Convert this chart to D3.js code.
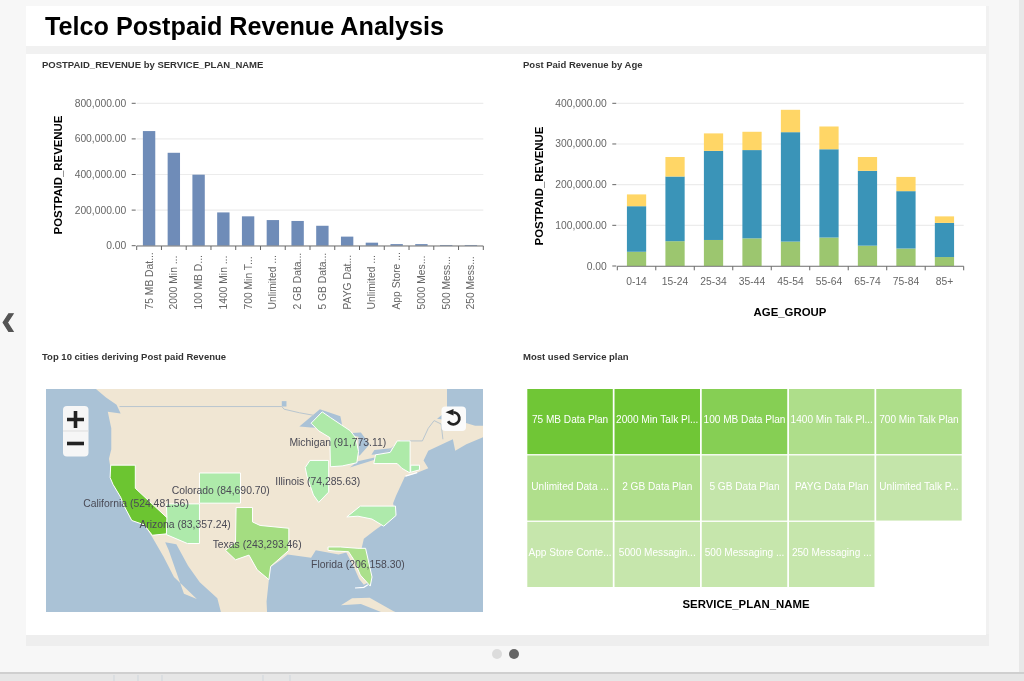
<!DOCTYPE html>
<html>
<head>
<meta charset="utf-8">
<script src="https://cdn.jsdelivr.net/npm/d3@7"></script>
<style>
html, body { margin: 0; padding: 0; background: #f7f7f7; overflow: hidden; }
svg { display: block; font-family: "Liberation Sans", Arial, sans-serif; filter: blur(0.35px); }
.tick-label { font-size: 10.3px; fill: #666; }
.panel-title { font-size: 9.5px; font-weight: bold; fill: #333; }
.axis-title { font-size: 11.4px; font-weight: bold; fill: #000; }
.map-label { font-size: 10.4px; fill: #4a4a55; }
.cell-label { font-size: 10.1px; fill: #fff; text-anchor: middle; }
</style>
</head>
<body>
<div id="chart"></div>
<script>
// bar chart data
var plan_short = ["75 MB Dat...", "2000 Min ...", "100 MB D...", "1400 Min ...", "700 Min T...", "Unlimited ...", "2 GB Data...", "5 GB Data...", "PAYG Dat...", "Unlimited ...", "App Store ...", "5000 Mes...", "500 Mess...", "250 Mess..."];
var plan_revenue = [644000, 522000, 399000, 187000, 165000, 144000, 139000, 112000, 51000, 17000, 9000, 9000, 4000, 4000];
var revenue_ticks = [0, 200000, 400000, 600000, 800000];

// stacked age data
var age_groups = ["0-14", "15-24", "25-34", "35-44", "45-54", "55-64", "65-74", "75-84", "85+"];
var age_green = [35000, 61000, 64000, 68000, 60000, 70000, 50000, 43000, 22000];
var age_blue = [112000, 159000, 219000, 217000, 269000, 217000, 184000, 141000, 84000];
var age_yellow = [29000, 48000, 43000, 45000, 55000, 56000, 34000, 35000, 16000];
var age_ticks = [0, 100000, 200000, 300000, 400000];

// heat map data
var plan_names = ["75 MB Data Plan", "2000 Min Talk Pl...", "100 MB Data Plan", "1400 Min Talk Pl...", "700 Min Talk Plan", "Unlimited Data ...", "2 GB Data Plan", "5 GB Data Plan", "PAYG Data Plan", "Unlimited Talk P...", "App Store Conte...", "5000 Messagin...", "500 Messaging ...", "250 Messaging ..."];
var plan_usage = [100, 100, 82, 50, 50, 48, 48, 22, 22, 22, 20, 20, 20, 20];

// map data, lon/lat
var state_names = ["California", "Arizona", "Colorado", "Texas", "Illinois", "Michigan", "Florida", "New York", "North Carolina", "Connecticut"];
var state_revenue = [524481.56, 83357.24, 84690.70, 243293.46, 74285.63, 91773.11, 206158.30, 88000, 80000, 70000];
var state_labels = [[-128.9, 36.5], [-119.3, 33.5], [-113.8, 38.3], [-106.8, 30.6], [-96.1, 39.5], [-93.7, 44.4], [-90.0, 27.6], null, null, null];
var state_shapes = [
  [[-124.2, 42], [-120, 42], [-120, 39], [-114.6, 35], [-114.1, 34.3], [-114.7, 32.7], [-117.1, 32.5], [-118.5, 34], [-120.6, 34.6], [-121.9, 36.6], [-122.5, 37.8], [-123.8, 39.5], [-124.3, 40.4]],
  [[-114.7, 36.9], [-109.05, 36.9], [-109.05, 31.3], [-111.1, 31.3], [-114.7, 32.6], [-114.6, 35]],
  [[-109.05, 41], [-102.05, 41], [-102.05, 37], [-109.05, 37]],
  [[-102.8, 36.4], [-100, 36.4], [-100, 34.4], [-98.7, 33.9], [-93.8, 33.5], [-93.8, 30.3], [-96.9, 27.9], [-97.2, 25.9], [-99.2, 27.4], [-100.6, 29.6], [-102.9, 28.9], [-104.6, 30.3], [-102.9, 31.5]],
  [[-90.2, 42.6], [-87, 42.6], [-87, 38.5], [-88.7, 37.1], [-89.6, 38.1], [-90.7, 40.6], [-91, 41.7]],
  [[-90, 47.1], [-88.1, 48.4], [-86.7, 47.75], [-83.3, 46.2], [-82.4, 45.4], [-81.9, 43.7], [-82.2, 42.3], [-84.7, 41.9], [-86.7, 41.8], [-86.8, 45.4], [-88.7, 46.2]],
  [[-87.1, 30.8], [-85, 30.8], [-82, 30.6], [-80.7, 30.6], [-79.6, 26.3], [-79.9, 24.9], [-81.6, 26.6], [-82.7, 28.9], [-83.6, 30.1], [-85.9, 30.2], [-87.1, 30.3]],
  [[-79.3, 42.2], [-79, 43.3], [-76.5, 43.6], [-75.3, 45], [-73.1, 45], [-73.1, 41], [-74.5, 41.6], [-75.3, 42.2]],
  [[-83.9, 35.1], [-81.6, 36.6], [-75.6, 36.6], [-75.5, 35.3], [-77.6, 33.8], [-79.6, 34.8], [-82, 35.2]],
  [[-73, 42], [-71.5, 42], [-71.5, 41.4], [-73, 41.1]]
];

// base map outlines, lon/lat
var land_outline = [[-140, 51.5], [-127.8, 51.5], [-125, 50], [-123.2, 49.2], [-122.5, 48.2], [-124.7, 48.4], [-124.1, 46.5], [-124.1, 44], [-124.5, 42.8], [-124.2, 41.5], [-123.8, 39.5], [-122.5, 37.8], [-121.9, 36.6], [-120.6, 34.6], [-118.5, 34], [-117.1, 32.2], [-115.2, 29.4], [-113.4, 26.3], [-109.5, 22.9], [-111.7, 23.7], [-114.3, 30.3], [-114.9, 31.5], [-113, 31.2], [-111, 28], [-109, 25.5], [-106, 23], [-105.3, 20.5], [-97.5, 20.5], [-97.6, 22.5], [-97.2, 25.9], [-97.4, 27.5], [-95, 29], [-94, 29.7], [-90, 29.2], [-89.2, 30.3], [-85.3, 29.7], [-84, 30], [-82.8, 28], [-81.8, 26], [-81, 25.1], [-80.2, 25.5], [-80, 27], [-81.4, 30.5], [-81, 32], [-79, 33.3], [-77.8, 34], [-75.6, 35.3], [-76, 37], [-75.5, 38], [-74, 40.5], [-72, 41], [-70, 41.6], [-70.8, 42.6], [-70, 43.8], [-67, 44.8], [-65.8, 45.2], [-65.4, 43.8], [-63.5, 44.6], [-60.5, 45.5], [-59, 46.5], [-59, 51.5]];
var newfoundland = [[-59.4, 47.6], [-60.3, 48.3], [-59, 49.5], [-57.5, 51.5], [-50, 51.5], [-50, 47]];
var cuba = [[-84.9, 21.9], [-83, 23], [-80, 23.1], [-76, 21], [-74.2, 20.2], [-77.5, 19.8], [-78, 20.8], [-81.5, 22.1]];
var great_lakes = [
  [[-92, 46.7], [-88.5, 48.7], [-85, 47.9], [-84.6, 46.5], [-87, 46.5], [-90, 46.6]],
  [[-84.5, 45.9], [-81.5, 46], [-80, 44.6], [-81.7, 43.2], [-81.9, 43.2], [-81.9, 45.5]],
  [[-83.4, 41.7], [-79, 42.7], [-79, 43], [-82, 42.5]],
  [[-79.7, 43.3], [-76.3, 43.5], [-76.3, 44.1], [-79.2, 43.9]],
  [[-66.8, 51.5], [-59, 51.5], [-59, 46.8], [-62, 46.8], [-64, 47.2], [-68.5, 47.6], [-66.8, 48.5]],
  [[-95, 49.6], [-94.2, 49.6], [-94.2, 49], [-95, 49]]
];
var canada_border = [[-122.7, 49], [-95, 49], [-94.6, 48.7], [-92, 48.3], [-89.5, 48]];
var canada_border_east = [[-79, 43], [-76.5, 44], [-74.7, 45], [-71, 45], [-70, 46.5], [-69, 47.4], [-67.8, 47], [-67.5, 45.2]];
var long_island = [[-73.9, 40.6], [-71.9, 41.05]];
var florida_keys = [[-82.5, 24.6], [-81, 24.7], [-80.3, 25.1]];

var svg = d3.select("#chart").append("svg")
    .attr("width", 1024)
    .attr("height", 681);

///////////// PAGE /////////////
svg.append("rect").attr("x", 0).attr("y", 0).attr("width", 1024).attr("height", 681).attr("fill", "#f7f7f7");
svg.append("rect").attr("x", 26).attr("y", 6).attr("width", 963).attr("height", 640).attr("fill", "#f1f1f1");
svg.append("rect").attr("x", 26).attr("y", 634).attr("width", 963).attr("height", 12).attr("fill", "#eeeeee");
svg.append("rect").attr("x", 26).attr("y", 6).attr("width", 960).attr("height", 40).attr("fill", "#ffffff");
svg.append("rect").attr("x", 26).attr("y", 54).attr("width", 960).attr("height", 581).attr("fill", "#ffffff");
svg.append("rect").attr("x", 1019).attr("y", 0).attr("width", 5).attr("height", 681).attr("fill", "#e8e8e8");
svg.append("rect").attr("x", 0).attr("y", 673).attr("width", 1024).attr("height", 8).attr("fill", "#e6e6e6");
svg.append("rect").attr("x", 0).attr("y", 672).attr("width", 1024).attr("height", 2).attr("fill", "#cfcfcf");
svg.selectAll("line.strip-tick").data([114, 138, 162, 263, 290]).enter().append("line")
    .attr("class", "strip-tick")
    .attr("x1", function(d) { return d; }).attr("x2", function(d) { return d; })
    .attr("y1", 675).attr("y2", 681)
    .attr("stroke", "#cfd6dc");

svg.append("text").attr("x", 45).attr("y", 35).attr("font-size", 25.2).attr("font-weight", "bold").attr("fill", "#000")
    .text("Telco Postpaid Revenue Analysis");
svg.append("text").attr("x", 1).attr("y", 327).attr("font-size", 17).attr("font-weight", "bold").attr("fill", "#555").attr("stroke", "#555")
    .text("❮");
svg.append("circle").attr("cx", 497).attr("cy", 654).attr("r", 5).attr("fill", "#dcdcdc");
svg.append("circle").attr("cx", 514).attr("cy", 654).attr("r", 5).attr("fill", "#666");

function panel_title(x, y, txt) {
  svg.append("text").attr("class", "panel-title").attr("x", x).attr("y", y).text(txt);
}
panel_title(42, 67.5, "POSTPAID_REVENUE by SERVICE_PLAN_NAME");
panel_title(523, 67.5, "Post Paid Revenue by Age");
panel_title(42, 360, "Top 10 cities deriving Post paid Revenue");
panel_title(523, 360, "Most used Service plan");

var money = d3.format(",.2f");

function draw_y_axis(y, ticks, x0, x1) {
  var g = svg.append("g").attr("transform", "translate(" + x0 + ",0)");
  g.selectAll("line.grid").data(ticks).enter().append("line")
    .attr("class", "grid")
    .attr("x1", 0).attr("x2", x1 - x0)
    .attr("y1", function(d) { return y(d); }).attr("y2", function(d) { return y(d); })
    .attr("stroke", "#ececec").attr("stroke-width", 1.2);
  g.selectAll("line.tk").data(ticks).enter().append("line")
    .attr("class", "tk")
    .attr("x1", -5).attr("x2", -1)
    .attr("y1", function(d) { return y(d); }).attr("y2", function(d) { return y(d); })
    .attr("stroke", "#666");
  g.selectAll("text").data(ticks).enter().append("text")
    .attr("class", "tick-label")
    .attr("x", -10.5)
    .attr("y", function(d) { return y(d) + 3.5; })
    .attr("text-anchor", "end")
    .text(function(d) { return money(d); });
}

function draw_x_line(x, y0) {
  var r = x.range(), step = x.step();
  var g = svg.append("g");
  g.append("line").attr("x1", r[0]).attr("x2", r[1]).attr("y1", y0).attr("y2", y0).attr("stroke", "#777").attr("stroke-width", 1);
  g.selectAll("line").filter(".t").data(d3.range(x.domain().length + 1)).enter().append("line")
    .attr("class", "t")
    .attr("x1", function(i) { return r[0] + i * step; })
    .attr("x2", function(i) { return r[0] + i * step; })
    .attr("y1", y0).attr("y2", y0 + 4)
    .attr("stroke", "#666");
}

///////////// BAR CHART /////////////
var bar_index = d3.range(plan_short.length);
var bar_x = d3.scaleBand().domain(bar_index).range([136.7, 483.3]).paddingInner(0.5).paddingOuter(0.25);
var bar_y = d3.scaleLinear().domain([0, 800000]).range([245.7, 103.3]);
// band ticks need the whole step, padding kept only for the bars
var bar_step = d3.scaleBand().domain(bar_index).range([136.7, 483.3]);
draw_y_axis(bar_y, revenue_ticks, 136.7, 483.3);
svg.selectAll("rect.plan").data(plan_revenue).enter().append("rect")
    .attr("class", "plan")
    .attr("x", function(d, i) { return bar_x(i); })
    .attr("width", bar_x.bandwidth())
    .attr("y", function(d) { return bar_y(d); })
    .attr("height", function(d) { return bar_y(0) - bar_y(d); })
    .attr("fill", "#6f8cb8");
draw_x_line(bar_step, 246);
svg.selectAll("text.plan-label").data(plan_short).enter().append("text")
    .attr("class", "tick-label")
    .attr("text-anchor", "start")
    .attr("transform", function(d, i) { return "translate(" + (bar_step(i) + bar_step.bandwidth() / 2 + 3.5) + ",309.5) rotate(-90)"; })
    .text(function(d) { return d; });
svg.append("text").attr("class", "axis-title").attr("text-anchor", "middle")
    .attr("transform", "translate(61.5,175) rotate(-90)").text("POSTPAID_REVENUE");

///////////// STACKED CHART /////////////
var age_x = d3.scaleBand().domain(age_groups).range([617.3, 963.7]).paddingInner(0.5).paddingOuter(0.25);
var age_step = d3.scaleBand().domain(age_groups).range([617.3, 963.7]);
var age_y = d3.scaleLinear().domain([0, 400000]).range([266, 103.3]);
var age_rows = age_groups.map(function(a, i) { return { age: a, green: age_green[i], blue: age_blue[i], yellow: age_yellow[i] }; });
var age_keys = ["green", "blue", "yellow"];
var age_colors = d3.scaleOrdinal().domain(age_keys).range(["#9cc66f", "#3a94b8", "#ffd666"]);
draw_y_axis(age_y, age_ticks, 617.3, 963.7);
svg.append("g").selectAll("g").data(d3.stack().keys(age_keys)(age_rows)).enter().append("g")
    .attr("fill", function(d) { return age_colors(d.key); })
    .selectAll("rect").data(function(d) { return d; }).enter().append("rect")
    .attr("x", function(d) { return age_x(d.data.age); })
    .attr("width", age_x.bandwidth())
    .attr("y", function(d) { return age_y(d[1]); })
    .attr("height", function(d) { return age_y(d[0]) - age_y(d[1]); });
draw_x_line(age_step, 266.3);
svg.selectAll("text.age-label").data(age_groups).enter().append("text")
    .attr("class", "tick-label")
    .attr("text-anchor", "middle")
    .attr("x", function(d) { return age_step(d) + age_step.bandwidth() / 2; })
    .attr("y", 285)
    .text(function(d) { return d; });
svg.append("text").attr("class", "axis-title").attr("text-anchor", "middle")
    .attr("transform", "translate(542.5,186) rotate(-90)").text("POSTPAID_REVENUE");
svg.append("text").attr("class", "axis-title").attr("text-anchor", "middle")
    .attr("x", 790).attr("y", 315.5).text("AGE_GROUP");

///////////// MAP /////////////
var projection = d3.geoMercator().scale(335.7).translate([838.4, 736.8]);
var geo_line = d3.line()
    .x(function(d) { return projection(d)[0]; })
    .y(function(d) { return projection(d)[1]; });
function closed(points) { return geo_line(points) + "Z"; }

svg.append("clipPath").attr("id", "map-clip").append("rect")
    .attr("x", 46).attr("y", 389).attr("width", 437).attr("height", 223);
var map = svg.append("g").attr("clip-path", "url(#map-clip)");
map.append("rect").attr("x", 46).attr("y", 389).attr("width", 437).attr("height", 223).attr("fill", "#aac2d6");
map.selectAll("path.land").data([land_outline, cuba]).enter().append("path")
    .attr("class", "land").attr("d", closed).attr("fill", "#f0e6d3");
map.selectAll("path.lake").data(great_lakes).enter().append("path")
    .attr("class", "lake").attr("d", closed).attr("fill", "#aac2d6");
map.append("path").datum(newfoundland).attr("d", closed).attr("fill", "#f0e6d3");
map.selectAll("path.border").data([canada_border, canada_border_east]).enter().append("path")
    .attr("class", "border").attr("d", geo_line).attr("fill", "none").attr("stroke", "#b9c6cf").attr("stroke-width", 1);

var state_color = d3.scaleLinear().domain([70000, 210000, 524000]).range(["#aeebae", "#abe08a", "#6cc531"]);
map.selectAll("path.state").data(state_shapes).enter().append("path")
    .attr("class", "state")
    .attr("d", closed)
    .attr("fill", function(d, i) { return state_color(state_revenue[i]); })
    .attr("stroke", "#ffffff")
    .attr("stroke-width", 1);
map.selectAll("path.island").data([long_island, florida_keys]).enter().append("path")
    .attr("class", "island").attr("d", geo_line).attr("fill", "none").attr("stroke", "#ffffff").attr("stroke-width", 1.2);
map.selectAll("text.map-label").data(state_names.filter(function(d, i) { return state_labels[i]; })).enter().append("text")
    .attr("class", "map-label")
    .attr("x", function(d) { return projection(state_labels[state_names.indexOf(d)])[0]; })
    .attr("y", function(d) { return projection(state_labels[state_names.indexOf(d)])[1]; })
    .text(function(d) { var i = state_names.indexOf(d); return d + " (" + money(state_revenue[i]) + ")"; });

// zoom buttons
var ctl = svg.append("g");
ctl.append("rect").attr("x", 63).attr("y", 406).attr("width", 25.5).attr("height", 50.5).attr("rx", 4).attr("fill", "#f6f6f6");
ctl.append("line").attr("x1", 63).attr("x2", 88.5).attr("y1", 431).attr("y2", 431).attr("stroke", "#ddd");
ctl.append("path").attr("d", "M67 419.5H84M75.5 411V428").attr("stroke", "#222").attr("stroke-width", 3.6).attr("fill", "none");
ctl.append("path").attr("d", "M67 443.5H84").attr("stroke", "#222").attr("stroke-width", 3.6).attr("fill", "none");
ctl.append("rect").attr("x", 441.5).attr("y", 406.5).attr("width", 24.5).attr("height", 24.5).attr("rx", 4).attr("fill", "#fbfbfb");
ctl.append("path")
    .attr("transform", "translate(453.3,418.3)")
    .attr("d", d3.arc().innerRadius(6).outerRadius(6)({ startAngle: 0, endAngle: 4.2 }))
    .attr("fill", "none").attr("stroke", "#222").attr("stroke-width", 2.8);
ctl.append("path").attr("d", "M445.5 412.3L453.5 409V415.6Z").attr("fill", "#222");

///////////// HEAT MAP /////////////
var cell_cols = d3.range(5), cell_rows = d3.range(3);
var cell_x = d3.scaleBand().domain(cell_cols).range([527.3, 961.7]).paddingInner(0.02);
var cell_y = d3.scaleBand().domain(cell_rows).range([389, 587]).paddingInner(0.02);
var cell_color = d3.scaleLinear().domain([20, 50, 100]).range(["#c6e6ac", "#aede8a", "#70c636"]);
var cells = svg.selectAll("g.cell").data(plan_names).enter().append("g").attr("class", "cell");
cells.append("rect")
    .attr("x", function(d, i) { return cell_x(i % 5); })
    .attr("y", function(d, i) { return cell_y(Math.floor(i / 5)); })
    .attr("width", cell_x.bandwidth())
    .attr("height", cell_y.bandwidth())
    .attr("fill", function(d, i) { return cell_color(plan_usage[i]); });
cells.append("text")
    .attr("class", "cell-label")
    .attr("x", function(d, i) { return cell_x(i % 5) + cell_x.bandwidth() / 2; })
    .attr("y", function(d, i) { return cell_y(Math.floor(i / 5)) + cell_y.bandwidth() / 2 + 1.5; })
    .text(function(d) { return d; });
svg.append("text").attr("class", "axis-title").attr("text-anchor", "middle")
    .attr("x", 746).attr("y", 607.5).text("SERVICE_PLAN_NAME");
</script>
</body>
</html>
